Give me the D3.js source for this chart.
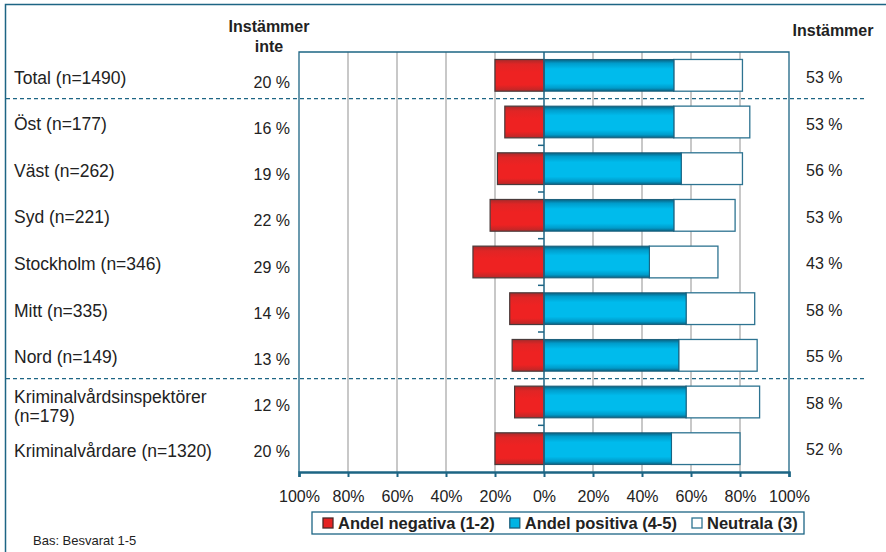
<!DOCTYPE html>
<html><head><meta charset="utf-8">
<script src="https://cdn.jsdelivr.net/npm/d3@7"></script>
<style>
body{margin:0;background:#fff;}
svg{display:block;font-family:"Liberation Sans",Arial,sans-serif;}
</style></head>
<body>
<svg id="chart" width="886" height="552"></svg>
<script>
const categories = ["Total (n=1490)", "Öst (n=177)", "Väst (n=262)", "Syd (n=221)", "Stockholm (n=346)", "Mitt (n=335)", "Nord (n=149)", "Kriminalvårdsinspektörer (n=179)", "Kriminalvårdare (n=1320)"];
const negative = [20, 16, 19, 22, 29, 14, 13, 12, 20];
const positive = [53, 53, 56, 53, 43, 58, 55, 58, 52];
const neutral = [28, 31, 25, 25, 28, 28, 32, 30, 28];
const tickValues = [-100, -80, -60, -40, -20, 0, 20, 40, 60, 80, 100];
const dividersAfter = [0, 6];
const seriesNames = ["Andel negativa (1-2)", "Andel positiva (4-5)", "Neutrala (3)"];

const svg = d3.select("#chart");
const teal = "#1d6584";
const pL = 299, pR = 789, pT = 52, pB = 472;

const x = d3.scaleLinear().domain([-100, 100]).range([pL, pR]);
const y = d3.scaleBand().domain(categories).range([pT, pB]).paddingInner(0.32).paddingOuter(0.16);
const yb = d3.scaleBand().domain(categories).range([pT, pB]);
const labelY = d3.scalePoint().domain(categories).range([77, 450]);
const leftValY = d3.scalePoint().domain(categories).range([82, 451]);
const rightValY = d3.scalePoint().domain(categories).range([77, 449]);

const defs = svg.append("defs");
const gb = defs.append("linearGradient").attr("id", "gBlue").attr("x1", 0).attr("x2", 0).attr("y1", 0).attr("y2", 1);
[[0, "#0b5f7e"], [0.12, "#009ccb"], [0.3, "#00bbec"], [0.75, "#00bbec"], [0.9, "#009ccb"], [1, "#0b5f7e"]].forEach(s => gb.append("stop").attr("offset", s[0]).attr("stop-color", s[1]));
const gr = defs.append("linearGradient").attr("id", "gRed").attr("x1", 0).attr("x2", 0).attr("y1", 0).attr("y2", 1);
[[0, "#a82a2a"], [0.15, "#e02525"], [0.4, "#ee2222"], [0.8, "#ee2222"], [1, "#b82828"]].forEach(s => gr.append("stop").attr("offset", s[0]).attr("stop-color", s[1]));

// outer frame
svg.append("rect").attr("x", 5.5).attr("y", 4.5).attr("width", 1000).attr("height", 1000)
  .attr("fill", "none").attr("stroke", teal).attr("stroke-width", 1.5);

// gridlines
svg.append("g").selectAll("line").data(tickValues.filter(t => t !== 0 && Math.abs(t) !== 100)).join("line")
  .attr("x1", d => x(d)).attr("x2", d => x(d)).attr("y1", pT).attr("y2", pB)
  .attr("stroke", "#c8c8c8").attr("stroke-width", 2);

// dashed dividers
svg.append("g").selectAll("line").data(dividersAfter).join("line")
  .attr("x1", 6).attr("x2", 866)
  .attr("y1", d => yb(categories[d]) + yb.bandwidth()).attr("y2", d => yb(categories[d]) + yb.bandwidth())
  .attr("stroke", teal).attr("stroke-width", 1.2).attr("stroke-dasharray", "4,3");

// bars
const data = categories.map((c, i) => ({c, neg: negative[i], pos: positive[i], neu: neutral[i]}));
const bars = svg.append("g");
bars.selectAll("rect.neu").data(data).join("rect").attr("class", "neu")
  .attr("x", d => x(d.pos)).attr("width", d => x(d.pos + d.neu) - x(d.pos))
  .attr("y", d => y(d.c)).attr("height", y.bandwidth())
  .attr("fill", "#fff").attr("stroke", "#2d7391").attr("stroke-width", 1.3);
bars.selectAll("rect.pos").data(data).join("rect").attr("class", "pos")
  .attr("x", x(0)).attr("width", d => x(d.pos) - x(0))
  .attr("y", d => y(d.c)).attr("height", y.bandwidth())
  .attr("fill", "url(#gBlue)").attr("stroke", "#1a5f7c").attr("stroke-width", 1);
bars.selectAll("rect.neg").data(data).join("rect").attr("class", "neg")
  .attr("x", d => x(-d.neg)).attr("width", d => x(0) - x(-d.neg))
  .attr("y", d => y(d.c)).attr("height", y.bandwidth())
  .attr("fill", "url(#gRed)").attr("stroke", "#4a3a3a").attr("stroke-width", 1.2);

// zero axis with ticks
svg.append("line").attr("x1", x(0)).attr("x2", x(0)).attr("y1", pT).attr("y2", pB)
  .attr("stroke", teal).attr("stroke-width", 1.5);
svg.append("g").selectAll("line").data(categories.slice(0, -1)).join("line")
  .attr("x1", x(0) - 6).attr("x2", x(0))
  .attr("y1", d => yb(d) + yb.bandwidth()).attr("y2", d => yb(d) + yb.bandwidth())
  .attr("stroke", teal).attr("stroke-width", 1.5);

// plot border
svg.append("path").attr("d", `M${pL},${pB}V${pT}H${pR}V${pB}`)
  .attr("fill", "none").attr("stroke", teal).attr("stroke-width", 1.3);

// bottom axis
const xAxis = d3.axisBottom(x).tickValues(tickValues).tickSize(5).tickPadding(14)
  .tickFormat(d => Math.abs(d) + "%");
const ax = svg.append("g").attr("transform", `translate(0,${pB})`).call(xAxis);
ax.select(".domain").attr("stroke", teal).attr("stroke-width", 2.5);
ax.selectAll(".tick line").attr("stroke", teal).attr("stroke-width", 2);
ax.selectAll(".tick text").attr("font-size", 16).attr("fill", "#222").attr("font-family", "Liberation Sans, Arial, sans-serif");

// category labels
const lab = svg.append("g").selectAll("text").data(categories).join("text")
  .attr("x", 14).attr("font-size", 17.5).attr("fill", "#222");
lab.each(function(d) {
  const t = d3.select(this);
  t.text(d);
  if (this.getComputedTextLength() > 235) {
    const k = d.lastIndexOf(" ");
    t.text(null);
    t.append("tspan").attr("x", 14).attr("y", labelY(d) - 0.5).text(d.slice(0, k));
    t.append("tspan").attr("x", 14).attr("y", labelY(d) + 18.5).text(d.slice(k + 1));
  } else {
    t.attr("y", labelY(d) + 6.5);
  }
});

// values
svg.append("g").selectAll("text").data(data).join("text")
  .attr("x", 290).attr("y", d => leftValY(d.c) + 6).attr("text-anchor", "end")
  .attr("font-size", 16).attr("fill", "#222").text(d => d.neg + " %");
svg.append("g").selectAll("text").data(data).join("text")
  .attr("x", 806).attr("y", d => rightValY(d.c) + 6)
  .attr("font-size", 16).attr("fill", "#222").text(d => d.pos + " %");

// headers
svg.append("text").attr("x", 269).attr("y", 32).attr("text-anchor", "middle")
  .attr("font-size", 16).attr("font-weight", "bold").attr("fill", "#222").text("Instämmer");
svg.append("text").attr("x", 269).attr("y", 52).attr("text-anchor", "middle")
  .attr("font-size", 16).attr("font-weight", "bold").attr("fill", "#222").text("inte");
svg.append("text").attr("x", 833).attr("y", 36).attr("text-anchor", "middle")
  .attr("font-size", 16).attr("font-weight", "bold").attr("fill", "#222").text("Instämmer");

// legend
svg.append("rect").attr("x", 312).attr("y", 512).attr("width", 492).attr("height", 22)
  .attr("fill", "#fff").attr("stroke", teal).attr("stroke-width", 1.3);
const swFill = ["#e52222", "#00b4e4", "#fff"];
const swStroke = ["#4a2a2a", "#1a5f7c", "#2d7391"];
let lx = 323;
seriesNames.forEach((n, i) => {
  svg.append("rect").attr("x", lx).attr("y", 518).attr("width", 10).attr("height", 10)
    .attr("fill", swFill[i]).attr("stroke", swStroke[i]).attr("stroke-width", 1.3);
  const t = svg.append("text").attr("x", lx + 15).attr("y", 529).attr("font-size", 16.5)
    .attr("font-weight", "bold").attr("fill", "#222").text(n);
  lx = lx + 15 + t.node().getComputedTextLength() + 15;
});

svg.append("text").attr("x", 33).attr("y", 545).attr("font-size", 13).attr("fill", "#222").text("Bas: Besvarat 1-5");
</script>
</body></html>
